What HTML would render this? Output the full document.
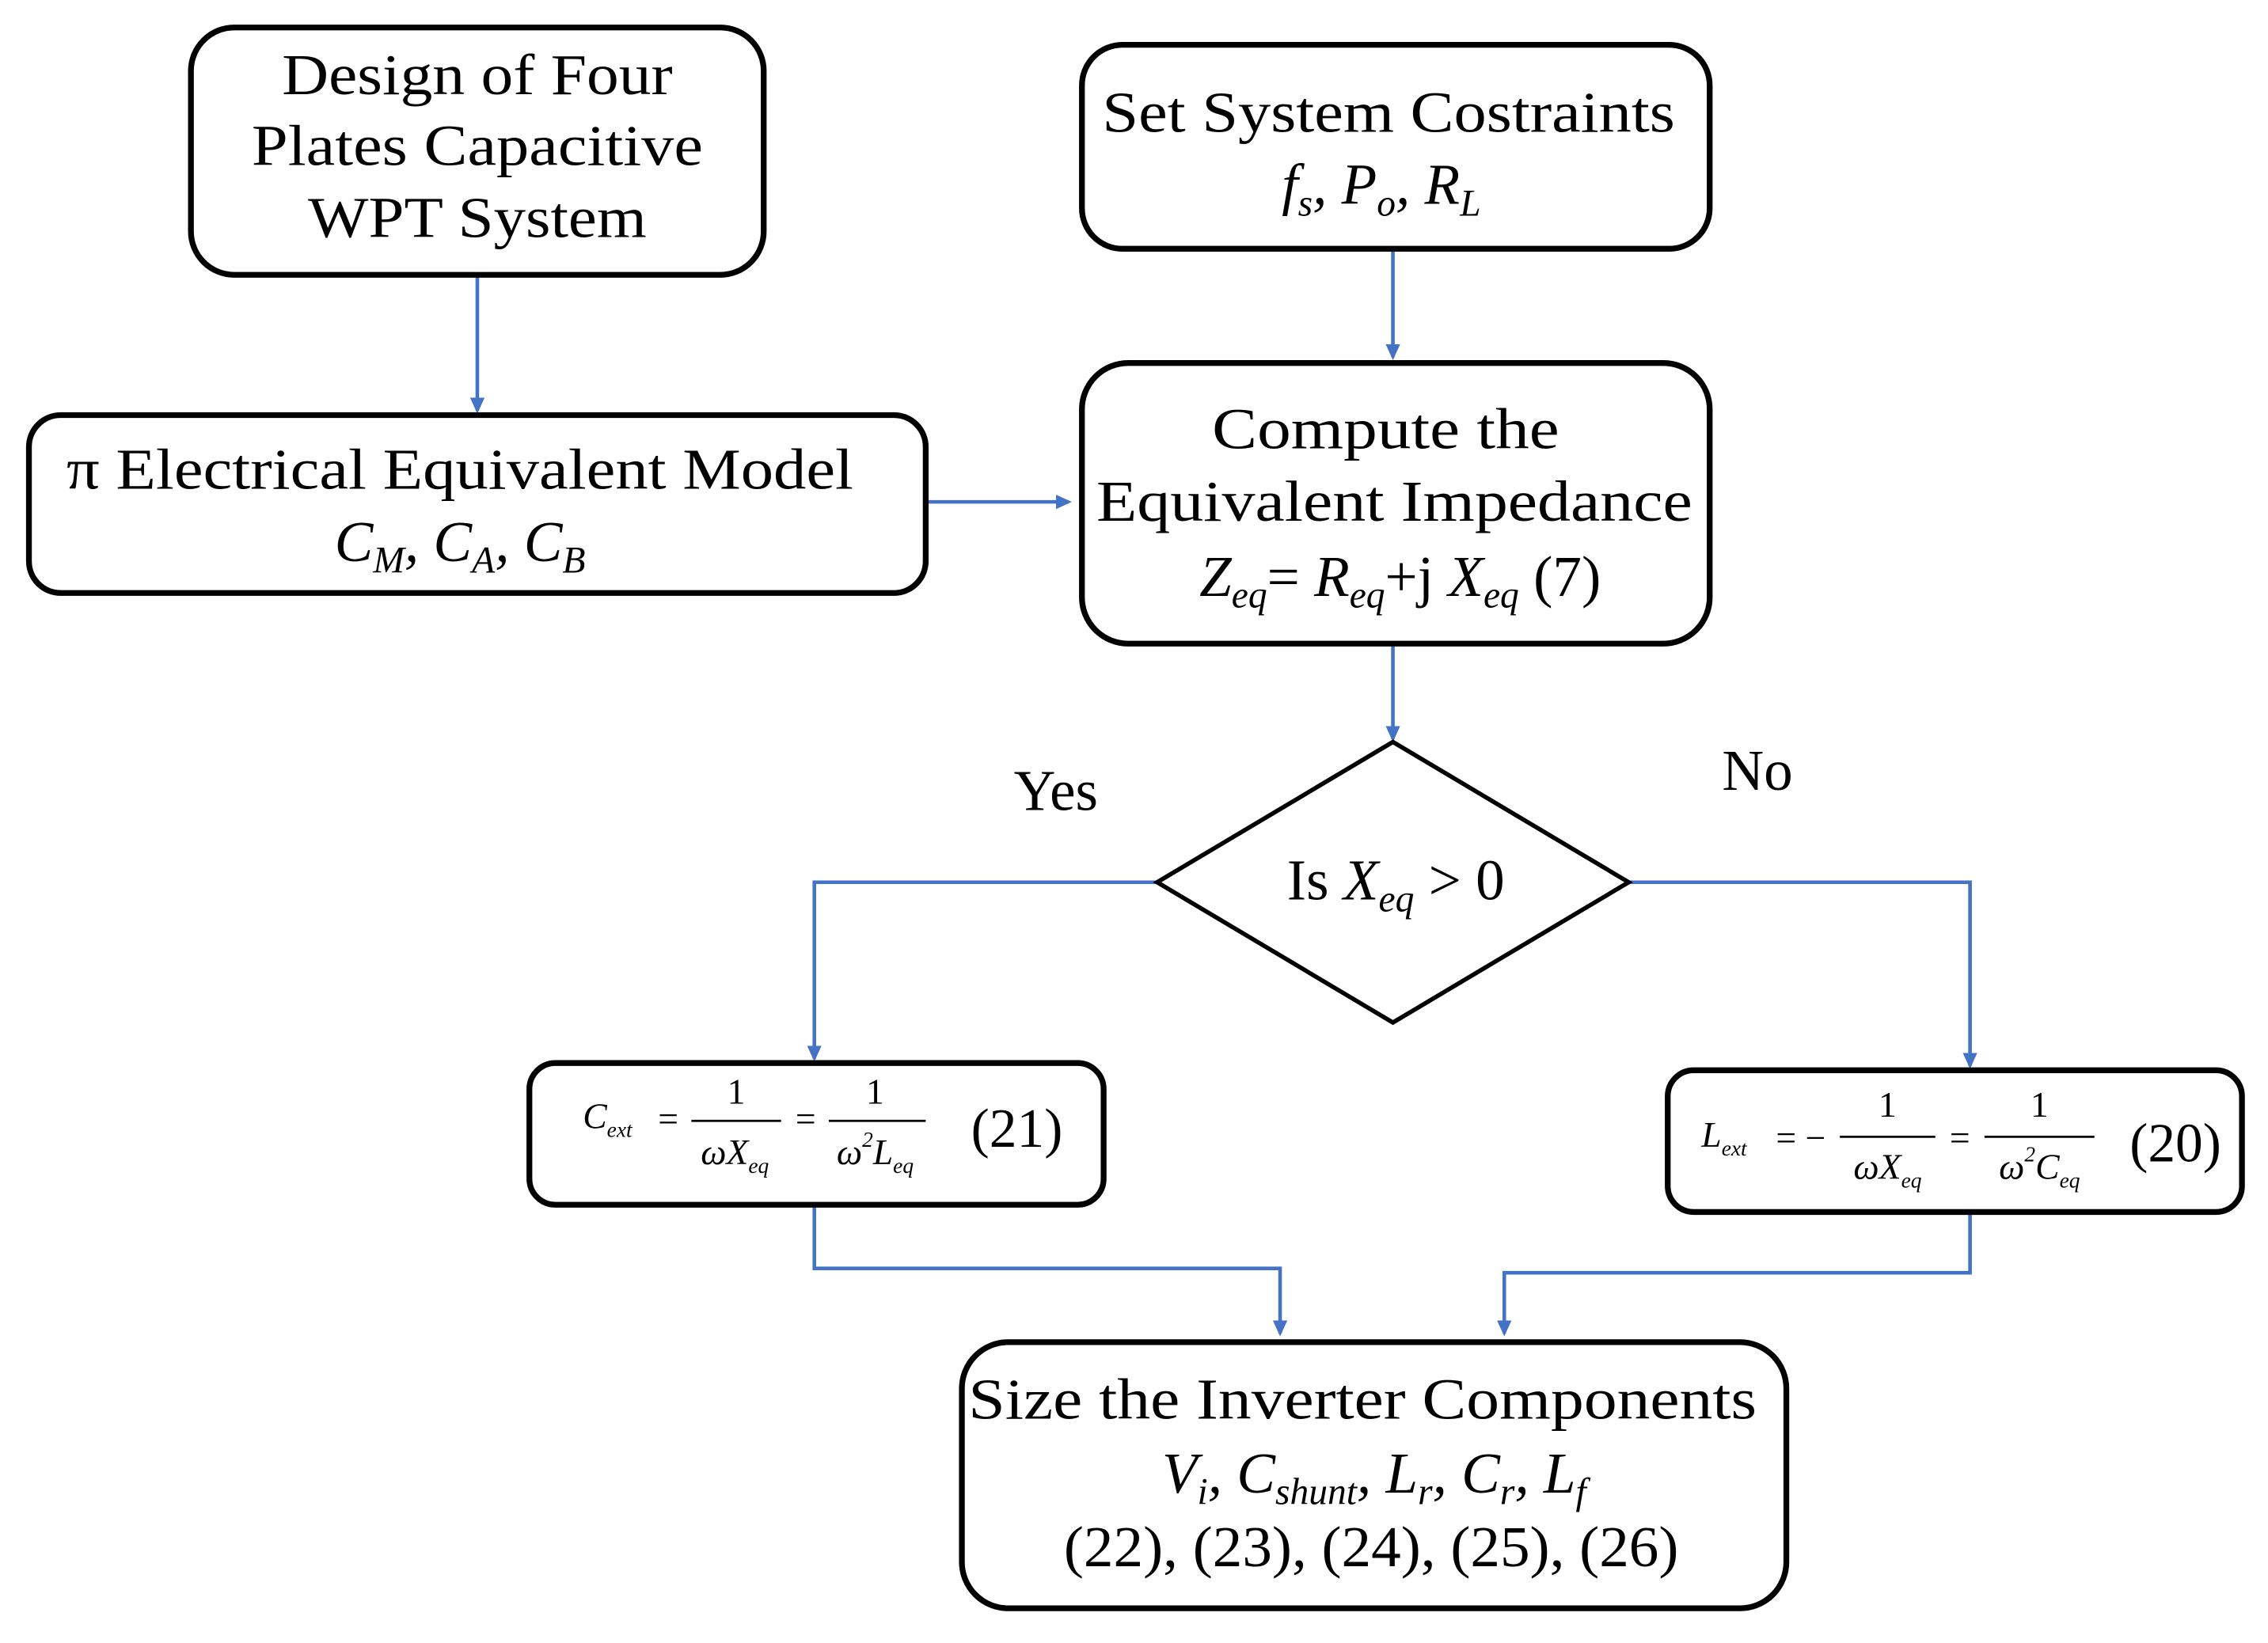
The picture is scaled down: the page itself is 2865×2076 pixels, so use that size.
<!DOCTYPE html>
<html><head><meta charset="utf-8"><style>
html,body{margin:0;padding:0;background:#fff;}
svg{display:block;}
text{font-family:"Liberation Serif","DejaVu Serif",serif;fill:#000;}
.i{font-style:italic;}
</style></head><body>
<svg width="2865" height="2076" viewBox="0 0 1568 1136" preserveAspectRatio="none" xmlns="http://www.w3.org/2000/svg">
<defs>
<marker id="a" markerWidth="12" markerHeight="12" refX="9" refY="5" orient="auto" markerUnits="userSpaceOnUse">
<path d="M0,0 L11,5 L0,10 z" fill="#4472C4"/>
</marker>
</defs>
<g fill="none" stroke="#4472C4" stroke-width="2.5">
<path d="M330,190 V284" marker-end="url(#a)"/>
<path d="M963,172 V247" marker-end="url(#a)"/>
<path d="M640,347 H739" marker-end="url(#a)"/>
<path d="M963,445 V511" marker-end="url(#a)"/>
<path d="M800,610 H563 V732" marker-end="url(#a)"/>
<path d="M1126,610 H1362 V737" marker-end="url(#a)"/>
<path d="M563,833 V877 H885 V922" marker-end="url(#a)"/>
<path d="M1362,838 V880 H1040 V922" marker-end="url(#a)"/>
</g>
<g fill="#fff" stroke="#000" stroke-width="4">
<rect x="132" y="19" width="396" height="171" rx="30"/>
<rect x="748" y="31" width="434" height="141" rx="28"/>
<rect x="20" y="287" width="620" height="123" rx="22"/>
<rect x="748" y="251" width="434" height="194" rx="32"/>
<rect x="366" y="735" width="397" height="98" rx="18"/>
<rect x="1153" y="740" width="397" height="98" rx="18"/>
<rect x="665" y="928" width="570" height="184" rx="32"/>
<path d="M963,513 L1126,610 L963,707 L800,610 Z" stroke-width="3"/>
</g>
<g font-size="40" text-anchor="middle">
<text x="330" y="65" textLength="270" lengthAdjust="spacingAndGlyphs">Design of Four</text>
<text x="330" y="114" textLength="312" lengthAdjust="spacingAndGlyphs">Plates Capacitive</text>
<text x="330" y="164" textLength="234" lengthAdjust="spacingAndGlyphs">WPT System</text>
<text x="960" y="91" textLength="396" lengthAdjust="spacingAndGlyphs">Set System Costraints</text>
<text x="955" y="141" class="i">f<tspan font-size="26" dy="8">s</tspan><tspan dy="-8">, P</tspan><tspan font-size="26" dy="8">o</tspan><tspan dy="-8">, R</tspan><tspan font-size="26" dy="8">L</tspan></text>
<text x="318" y="338" textLength="544" lengthAdjust="spacingAndGlyphs">π Electrical Equivalent Model</text>
<text x="318" y="388" class="i">C<tspan font-size="26" dy="8">M</tspan><tspan dy="-8">, C</tspan><tspan font-size="26" dy="8">A</tspan><tspan dy="-8">, C</tspan><tspan font-size="26" dy="8">B</tspan></text>
<text x="958" y="310" textLength="240" lengthAdjust="spacingAndGlyphs">Compute the</text>
<text x="964" y="360" textLength="412" lengthAdjust="spacingAndGlyphs">Equivalent Impedance</text>
<text x="968" y="412"><tspan class="i">Z</tspan><tspan class="i" font-size="26" dy="8">eq</tspan><tspan dy="-8">= </tspan><tspan class="i">R</tspan><tspan class="i" font-size="26" dy="8">eq</tspan><tspan dy="-8">+j </tspan><tspan class="i">X</tspan><tspan class="i" font-size="26" dy="8">eq</tspan><tspan dy="-8"> (7)</tspan></text>
<text x="730" y="560">Yes</text>
<text x="1215" y="546">No</text>
<text x="965" y="622">Is <tspan class="i">X</tspan><tspan class="i" font-size="26" dy="8">eq</tspan><tspan dy="-8"> &gt; 0</tspan></text>
<text x="942" y="981" textLength="545" lengthAdjust="spacingAndGlyphs">Size the Inverter Components</text>
<text x="950" y="1032" class="i">V<tspan font-size="26" dy="8">i</tspan><tspan dy="-8">, C</tspan><tspan font-size="26" dy="8">shunt</tspan><tspan dy="-8">, L</tspan><tspan font-size="26" dy="8">r</tspan><tspan dy="-8">, C</tspan><tspan font-size="26" dy="8">r</tspan><tspan dy="-8">, L</tspan><tspan font-size="26" dy="8">f</tspan></text>
<text x="948" y="1083" textLength="425" lengthAdjust="spacingAndGlyphs">(22), (23), (24), (25), (26)</text>
</g>
<g font-size="25" text-anchor="middle">
<text x="420" y="780" class="i">C<tspan font-size="15" dy="6">ext</tspan></text>
<text x="462" y="782">=</text>
<line x1="478" y1="775" x2="540" y2="775" stroke="#000" stroke-width="1.5"/>
<text x="509" y="763">1</text>
<text x="508" y="805" class="i">ωX<tspan font-size="15" dy="6">eq</tspan></text>
<text x="557" y="782">=</text>
<line x1="573" y1="775" x2="640" y2="775" stroke="#000" stroke-width="1.5"/>
<text x="605" y="763">1</text>
<text x="605" y="805" class="i">ω<tspan font-size="15" dy="-12">2</tspan><tspan dy="12">L</tspan><tspan font-size="15" dy="6">eq</tspan></text>
<text x="703" y="793" font-size="38">(21)</text>
</g>
<g font-size="25" text-anchor="middle">
<text x="1192" y="793" class="i">L<tspan font-size="15" dy="6">ext</tspan></text>
<text x="1245" y="795">= −</text>
<line x1="1272" y1="786" x2="1338" y2="786" stroke="#000" stroke-width="1.5"/>
<text x="1305" y="772">1</text>
<text x="1305" y="815" class="i">ωX<tspan font-size="15" dy="6">eq</tspan></text>
<text x="1355" y="795">=</text>
<line x1="1372" y1="786" x2="1448" y2="786" stroke="#000" stroke-width="1.5"/>
<text x="1410" y="772">1</text>
<text x="1410" y="815" class="i">ω<tspan font-size="15" dy="-12">2</tspan><tspan dy="12">C</tspan><tspan font-size="15" dy="6">eq</tspan></text>
<text x="1504" y="803" font-size="38">(20)</text>
</g>
</svg>
</body></html>
